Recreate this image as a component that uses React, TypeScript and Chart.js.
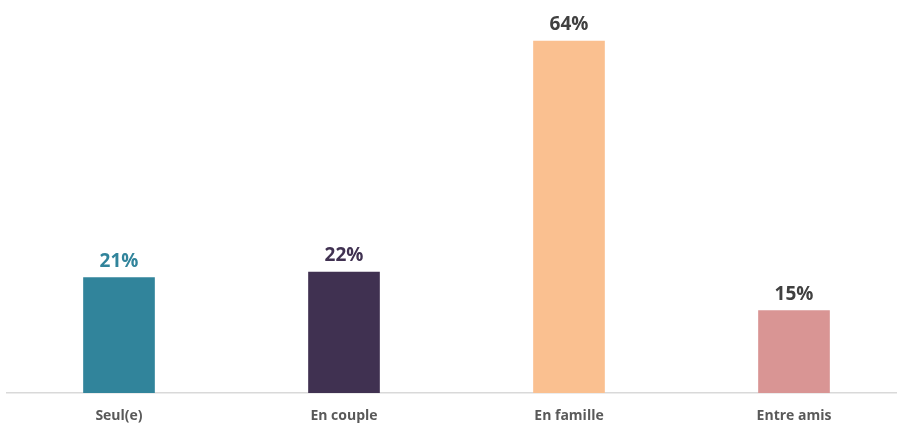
import React, { useEffect, useRef } from "react";
import { Chart, registerables } from "chart.js";

Chart.register(...registerables);

const categories = ["Seul(e)", "En couple", "En famille", "Entre amis"];
const values = [21, 22, 64, 15];
const barColors = ["#31849B", "#403151", "#FAC090", "#D99594"];
const labelColors = ["#31849B", "#403151", "#404040", "#404040"];

const valueLabels = {
  id: "valueLabels",
  afterDatasetsDraw(chart: any) {
    const ctx = chart.ctx;
    const meta = chart.getDatasetMeta(0);
    ctx.save();
    ctx.font = "bold 19px 'Open Sans', sans-serif";
    ctx.textAlign = "center";
    ctx.textBaseline = "alphabetic";
    meta.data.forEach((bar: any, i: number) => {
      ctx.fillStyle = labelColors[i];
      ctx.fillText(values[i] + "%", bar.x, bar.y - 11);
    });
    ctx.restore();
  },
};

export default function App() {
  const ref = useRef<HTMLCanvasElement>(null);
  useEffect(() => {
    if (!ref.current) return;
    const chart = new Chart(ref.current, {
      type: "bar",
      data: {
        labels: categories,
        datasets: [
          {
            data: values,
            backgroundColor: barColors,
            borderWidth: 0,
            barThickness: 71,
          },
        ],
      },
      options: {
        responsive: false,
        animation: false,
        layout: { padding: { left: 6.5, right: 3.5, top: 8, bottom: 0 } },
        plugins: { legend: { display: false }, tooltip: { enabled: false } },
        scales: {
          x: {
            grid: { display: false, drawTicks: false },
            border: { display: true, color: "#D9D9D9", width: 1.5 },
            ticks: {
              color: "#595959",
              font: { family: "'Open Sans', sans-serif", size: 14, weight: "bold" },
              padding: 15,
            },
            afterFit(scale: any) {
              scale.height = 31;
            },
          },
          y: {
            display: false,
            min: 0,
            max: 70,
          },
        },
      },
      plugins: [valueLabels],
    });
    return () => chart.destroy();
  }, []);
  return (
    <div style={{ position: "absolute", left: 0, top: 0, width: 897, height: 424, overflow: "hidden", background: "#fff" }}>
      <canvas ref={ref} width={910} height={424} style={{ display: "block" }} />
    </div>
  );
}
